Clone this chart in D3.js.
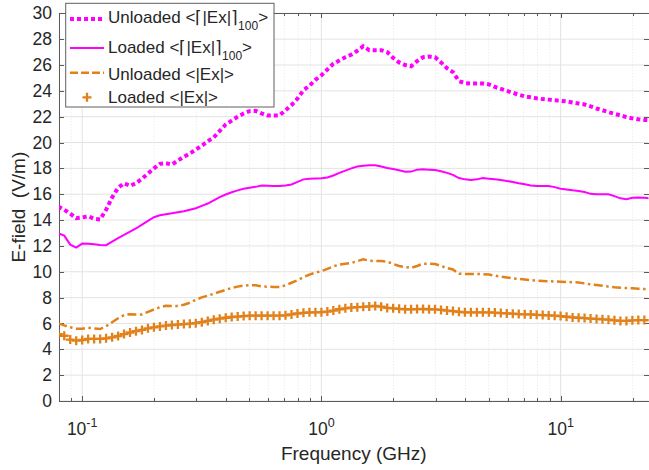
<!DOCTYPE html>
<script src="https://d3js.org/d3.v7.min.js"></script>
<body style="margin: 0; background: #fff;">
<svg id="chart" width="649" height="470"></svg>
</body>

<style>
  text { font-family: "Liberation Sans", Arial, Helvetica, sans-serif; fill: #262626; }
  .grid line { stroke: #e3e3e3; stroke-width: 1px; }
  .grid .minor { stroke: #e6e6e6; stroke-dasharray: 1,2; }
  .axis path, .axis line { stroke: #5a5a5a; stroke-width: 1px; shape-rendering: crispEdges; }
  .axis text { font-size: 17.5px; }
</style>

<script>

// frequency grid (GHz)
var freq = [0.07943, 0.08414, 0.08913, 0.09441,
  0.1, 0.1059, 0.1122, 0.1189, 0.1259, 0.1334, 0.1413, 0.1496, 0.1585, 0.1679, 0.1778, 0.1884, 0.1995, 0.2113, 0.2239, 0.2371, 0.2512, 0.2661, 0.2818, 0.2985,
  0.3162, 0.3350, 0.3548, 0.3758, 0.3981, 0.4217, 0.4467, 0.4732, 0.5012, 0.5309, 0.5623, 0.5957, 0.6310, 0.6683, 0.7079, 0.7499, 0.7943, 0.8414, 0.8913, 0.9441,
  1, 1.059, 1.122, 1.189, 1.259, 1.334, 1.413, 1.496, 1.585, 1.679, 1.778, 1.884, 1.995, 2.113, 2.239, 2.371, 2.512, 2.661, 2.818, 2.985,
  3.162, 3.350, 3.548, 3.758, 3.981, 4.217, 4.467, 4.732, 5.012, 5.309, 5.623, 5.957, 6.310, 6.683, 7.079, 7.499, 7.943, 8.414, 8.913, 9.441,
  10, 10.59, 11.22, 11.89, 12.59, 13.34, 14.13, 14.96, 15.85, 16.79, 17.78, 18.84, 19.95, 21.13, 22.39, 23.71];

var unloadedMax = [15.05, 14.8, 14.5, 14.15,
  14.2, 14.3, 14.1, 14.05, 14.8, 15.75, 16.5, 16.85, 16.65, 16.85, 17.2, 17.6, 18.0, 18.35, 18.4, 18.3, 18.6, 18.9, 19.15, 19.45,
  19.75, 20.1, 20.4, 20.9, 21.4, 21.7, 22.0, 22.25, 22.43, 22.45, 22.25, 22.1, 22.1, 22.1, 22.5, 22.9, 23.4, 24.05, 24.4, 24.85,
  25.2, 25.65, 26.1, 26.35, 26.6, 26.8, 27.1, 27.45, 27.15, 27.15, 27.15, 27.0, 26.55, 26.2, 26.0, 25.9, 26.3, 26.6, 26.65, 26.6,
  26.2, 25.75, 25.45, 24.75, 24.6, 24.57, 24.57, 24.57, 24.5, 24.3, 24.15, 24.0, 23.85, 23.7, 23.57, 23.5, 23.42, 23.36, 23.32, 23.27,
  23.23, 23.18, 23.1, 23.02, 22.95, 22.8, 22.63, 22.5, 22.35, 22.22, 22.1, 21.97, 21.87, 21.8, 21.75, 21.72];

var loadedMax = [12.97, 12.8, 12.1, 11.87,
  12.18, 12.17, 12.12, 12.08, 12.06, 12.33, 12.6, 12.86, 13.1, 13.35, 13.65, 13.93, 14.22, 14.37, 14.45, 14.52, 14.6, 14.68, 14.8, 14.92,
  15.1, 15.28, 15.52, 15.78, 15.98, 16.15, 16.3, 16.43, 16.5, 16.57, 16.68, 16.65, 16.63, 16.64, 16.68, 16.75, 16.95, 17.15, 17.2, 17.22,
  17.24, 17.3, 17.45, 17.65, 17.83, 18.0, 18.14, 18.2, 18.24, 18.25, 18.15, 18.03, 17.95, 17.85, 17.74, 17.75, 17.9, 17.93, 17.9, 17.87,
  17.78, 17.65, 17.5, 17.25, 17.15, 17.1, 17.15, 17.26, 17.2, 17.15, 17.1, 17.03, 16.95, 16.85, 16.77, 16.68, 16.64, 16.63, 16.63, 16.55,
  16.43, 16.37, 16.3, 16.25, 16.17, 16.03, 15.99, 15.99, 15.99, 15.85, 15.68, 15.62, 15.72, 15.75, 15.72, 15.68];

var unloadedMean = [6.02, 5.85, 5.7, 5.6,
  5.6, 5.67, 5.62, 5.57, 5.78, 6.1, 6.4, 6.65, 6.72, 6.7, 6.7, 6.9, 7.08, 7.25, 7.37, 7.36, 7.35, 7.45, 7.6, 7.83,
  8.02, 8.15, 8.3, 8.45, 8.6, 8.75, 8.85, 8.93, 8.97, 8.96, 8.86, 8.84, 8.83, 8.82, 8.95, 9.15, 9.35, 9.58, 9.78, 9.93,
  10.05, 10.22, 10.42, 10.55, 10.62, 10.68, 10.82, 10.96, 10.86, 10.83, 10.83, 10.78, 10.6, 10.45, 10.36, 10.3, 10.45, 10.63, 10.63, 10.6,
  10.45, 10.28, 10.18, 9.85, 9.82, 9.82, 9.82, 9.82, 9.78, 9.7, 9.63, 9.56, 9.5, 9.44, 9.4, 9.36, 9.32, 9.29, 9.27, 9.25,
  9.23, 9.21, 9.19, 9.17, 9.1, 9.02, 8.97, 8.92, 8.85, 8.8, 8.77, 8.74, 8.72, 8.69, 8.66, 8.64];

var loadedMean = [5.17, 5.05, 4.75, 4.67,
  4.72, 4.8, 4.8, 4.8, 4.85, 4.93, 5.03, 5.18, 5.3, 5.4, 5.5, 5.62, 5.7, 5.77, 5.84, 5.88, 5.91, 5.95, 5.98, 6.02,
  6.1, 6.2, 6.29, 6.37, 6.44, 6.5, 6.53, 6.57, 6.6, 6.6, 6.6, 6.6, 6.6, 6.6, 6.63, 6.7, 6.77, 6.82, 6.86, 6.86,
  6.87, 6.92, 7.0, 7.1, 7.17, 7.23, 7.26, 7.29, 7.32, 7.35, 7.3, 7.2, 7.17, 7.13, 7.1, 7.09, 7.11, 7.12, 7.1, 7.09,
  7.05, 7.0, 6.96, 6.9, 6.86, 6.86, 6.86, 6.86, 6.86, 6.84, 6.8, 6.78, 6.76, 6.73, 6.71, 6.7, 6.67, 6.65, 6.62, 6.6,
  6.57, 6.52, 6.47, 6.44, 6.42, 6.38, 6.35, 6.32, 6.29, 6.24, 6.2, 6.2, 6.24, 6.26, 6.26, 6.26];

var yTicks = [0, 2, 4, 6, 8, 10, 12, 14, 16, 18, 20, 22, 24, 26, 28, 30];
var xMajor = [0.1, 1, 10];
var xMajorExp = ["-1", "0", "1"];

var magenta = "#ff00ff";
var orange = "#e2811a";

var svg = d3.select("#chart");

var pLeft = 59, pRight = 648.5, pTop = 13.3, pBottom = 401;

var x = d3.scaleLog().domain([0.08, 23.3]).range([pLeft, pRight]);
var y = d3.scaleLinear().domain([0, 30]).range([pBottom, pTop]);

var xMinor = x.ticks().filter(function(d) { return xMajor.indexOf(d) < 0; });

svg.append("defs").append("clipPath").attr("id", "plotclip")
  .append("rect")
    .attr("x", pLeft).attr("y", pTop)
    .attr("width", pRight - pLeft).attr("height", pBottom - pTop);

// grid
var grid = svg.append("g").attr("class", "grid");
grid.selectAll("line.minor").data(xMinor).join("line")
    .attr("class", "minor")
    .attr("x1", function(d) { return x(d); }).attr("x2", function(d) { return x(d); })
    .attr("y1", pTop).attr("y2", pBottom);
grid.selectAll("line.xmaj").data(xMajor).join("line")
    .attr("class", "xmaj")
    .attr("x1", function(d) { return x(d); }).attr("x2", function(d) { return x(d); })
    .attr("y1", pTop).attr("y2", pBottom);
grid.selectAll("line.ymaj").data(yTicks).join("line")
    .attr("class", "ymaj")
    .attr("x1", pLeft).attr("x2", pRight)
    .attr("y1", function(d) { return y(d); }).attr("y2", function(d) { return y(d); });

// axes, ticks pointing inwards
svg.append("g").attr("class", "axis")
    .attr("transform", "translate(" + pLeft + ",0)")
    .call(d3.axisLeft(y).tickValues(yTicks).tickSize(-5).tickSizeOuter(0).tickPadding(7));
svg.append("g").attr("class", "axis")
    .attr("transform", "translate(" + pRight + ",0)")
    .call(d3.axisRight(y).tickValues(yTicks).tickSize(-5).tickSizeOuter(0).tickFormat(""));
svg.append("g").attr("class", "axis")
    .attr("transform", "translate(0," + pBottom + ")")
    .call(d3.axisBottom(x).tickValues(xMajor).tickSize(-5).tickSizeOuter(0).tickFormat(""));
svg.append("g").attr("class", "axis")
    .attr("transform", "translate(0," + pBottom + ")")
    .call(d3.axisBottom(x).tickValues(xMinor).tickSize(-3).tickSizeOuter(0).tickFormat(""));
svg.append("g").attr("class", "axis")
    .attr("transform", "translate(0," + pTop + ")")
    .call(d3.axisTop(x).tickValues(xMajor).tickSize(-5).tickSizeOuter(0).tickFormat(""));
svg.append("g").attr("class", "axis")
    .attr("transform", "translate(0," + pTop + ")")
    .call(d3.axisTop(x).tickValues(xMinor).tickSize(-3).tickSizeOuter(0).tickFormat(""));

// x tick labels 10^n
var xl = svg.append("g").selectAll("text").data(xMajor).join("text")
    .attr("x", function(d) { return x(d); })
    .attr("y", 435)
    .attr("text-anchor", "middle")
    .style("font-size", "17.5px");
xl.append("tspan").text("10");
xl.append("tspan").attr("dy", -8).style("font-size", "12.5px")
    .text(function(d, i) { return xMajorExp[i]; });

// axis titles
svg.append("text")
    .attr("x", (pLeft + pRight) / 2)
    .attr("y", 460)
    .attr("text-anchor", "middle")
    .style("font-size", "19px")
    .text("Frequency (GHz)");

svg.append("text")
    .attr("transform", "translate(25," + ((pTop + pBottom) / 2) + ") rotate(-90)")
    .attr("text-anchor", "middle")
    .style("font-size", "19px")
    .style("white-space", "pre")
    .text("E-field  (V/m)");

// series
var plot = svg.append("g").attr("clip-path", "url(#plotclip)");

var line = function(vals) {
  return d3.line()
    .x(function(d, i) { return x(freq[i]); })
    .y(function(d) { return y(d); })(vals);
};

plot.append("path")
    .attr("d", line(unloadedMax))
    .attr("fill", "none")
    .attr("stroke", magenta)
    .attr("stroke-width", 4)
    .attr("stroke-dasharray", "4,3");

plot.append("path")
    .attr("d", line(loadedMax))
    .attr("fill", "none")
    .attr("stroke", magenta)
    .attr("stroke-width", 2);

plot.append("path")
    .attr("d", line(unloadedMean))
    .attr("fill", "none")
    .attr("stroke", orange)
    .attr("stroke-width", 2.5)
    .attr("stroke-dasharray", "9,3.5,2.5,3.5");

var plusPath = "M-4.5,0H4.5M0,-4.5V4.5";

plot.append("g").selectAll("path").data(loadedMean).join("path")
    .attr("transform", function(d, i) { return "translate(" + x(freq[i]) + "," + y(d) + ")"; })
    .attr("d", plusPath)
    .attr("fill", "none")
    .attr("stroke", orange)
    .attr("stroke-width", 2.3);

// legend
var lg = svg.append("g");
lg.append("rect")
    .attr("x", 65.7).attr("y", 3.3)
    .attr("width", 208.3).attr("height", 103.7)
    .attr("fill", "#fff")
    .attr("stroke", "#5f5f5f")
    .attr("stroke-width", 1);

lg.append("line").attr("x1", 70).attr("x2", 104).attr("y1", 19).attr("y2", 19)
    .attr("stroke", magenta).attr("stroke-width", 4).attr("stroke-dasharray", "4,3");
lg.append("line").attr("x1", 70).attr("x2", 104).attr("y1", 48).attr("y2", 48)
    .attr("stroke", magenta).attr("stroke-width", 2);
lg.append("line").attr("x1", 70).attr("x2", 104).attr("y1", 72.7).attr("y2", 72.7)
    .attr("stroke", orange).attr("stroke-width", 2.5).attr("stroke-dasharray", "8,3");
lg.append("path").attr("transform", "translate(87,97.3)").attr("d", plusPath)
    .attr("fill", "none").attr("stroke", orange).attr("stroke-width", 2.3);

var legendRows = [
  {main: "Unloaded <\u2308|Ex|\u2309", sub: "100", tail: ">", y: 23.3},
  {main: "Loaded <\u2308|Ex|\u2309", sub: "100", tail: ">", y: 52.5},
  {main: "Unloaded <|Ex|>", sub: "", tail: "", y: 80},
  {main: "Loaded <|Ex|>", sub: "", tail: "", y: 103}
];

legendRows.forEach(function(r) {
  var t = lg.append("text").attr("x", 108).attr("y", r.y).style("font-size", "17px");
  t.append("tspan").text(r.main);
  if (r.sub) {
    t.append("tspan").attr("dy", 7).style("font-size", "12px").text(r.sub);
    t.append("tspan").attr("dy", -7).text(r.tail);
  }
});

</script>
